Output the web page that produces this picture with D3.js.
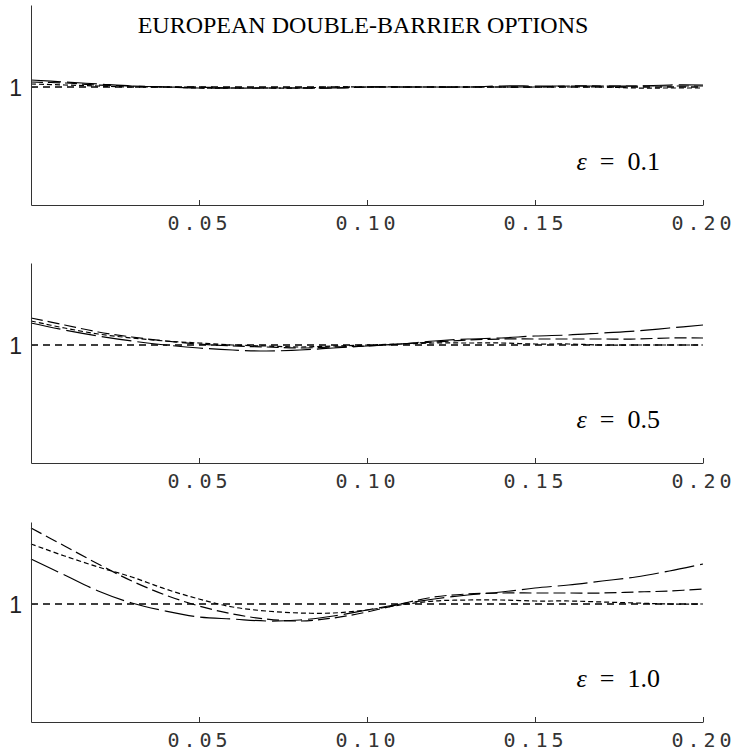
<!DOCTYPE html>
<html>
<head>
<meta charset="utf-8">
<script src="https://cdn.jsdelivr.net/npm/d3@7"></script>
<style>
  body { margin: 0; background: #fff; }
</style>
</head>
<body>
<script>
//constants
const w = 737;
const h = 753;
const left = 31;
const right = 703;
const panelH = 200;
const panelTops = [5, 263, 522];

//data
const xs = [0, 0.01, 0.02, 0.03, 0.04, 0.05, 0.06, 0.07, 0.08, 0.09, 0.10,
            0.11, 0.12, 0.13, 0.14, 0.15, 0.16, 0.17, 0.18, 0.19, 0.20];
const xTicks = [0.05, 0.10, 0.15, 0.20];
const yTicks = [1];
const epsLabels = ["0.1", "0.5", "1.0"];

// eps = 0.1
const long1  = [1.007, 1.005, 1.003, 1.001, 1.000, 0.999, 0.999, 0.999, 0.999, 0.999, 1.000,
                1.000, 1.000, 1.000, 1.001, 1.001, 1.001, 1.001, 1.001, 1.002, 1.002];
const dash1  = [1.005, 1.004, 1.002, 1.001, 1.000, 1.000, 0.999, 0.999, 0.999, 0.999, 1.000,
                1.000, 1.000, 1.000, 1.000, 1.000, 1.001, 1.001, 1.001, 1.001, 1.001];
const short1 = [1.003, 1.002, 1.001, 1.000, 1.000, 0.999, 0.999, 0.999, 0.999, 1.000, 1.000,
                1.000, 1.000, 1.000, 1.000, 1.000, 1.000, 1.000, 0.999, 0.999, 0.999];
// eps = 0.5
const long2  = [1.022, 1.015, 1.009, 1.004, 1.000, 0.997, 0.995, 0.994, 0.995, 0.997, 0.999,
                1.001, 1.004, 1.006, 1.007, 1.009, 1.010, 1.012, 1.014, 1.017, 1.020];
const dash2  = [1.027, 1.020, 1.013, 1.008, 1.004, 1.001, 0.999, 0.998, 0.997, 0.998, 0.999,
                1.001, 1.003, 1.005, 1.006, 1.006, 1.006, 1.006, 1.006, 1.007, 1.007];
const short2 = [1.024, 1.017, 1.011, 1.007, 1.004, 1.002, 1.000, 0.999, 0.998, 0.999, 1.000,
                1.001, 1.002, 1.002, 1.002, 1.001, 1.001, 1.000, 1.000, 1.000, 1.000];
// eps = 1.0
const long3  = [1.045, 1.029, 1.013, 1.001, 0.993, 0.987, 0.985, 0.983, 0.984, 0.988, 0.994,
                1.000, 1.005, 1.009, 1.012, 1.016, 1.019, 1.023, 1.027, 1.033, 1.040];
const dash3  = [1.076, 1.058, 1.040, 1.023, 1.009, 0.998, 0.990, 0.985, 0.983, 0.986, 0.992,
                1.000, 1.007, 1.010, 1.011, 1.011, 1.011, 1.011, 1.012, 1.013, 1.015];
const short3 = [1.060, 1.048, 1.037, 1.027, 1.015, 1.005, 0.997, 0.993, 0.991, 0.991, 0.994,
                0.999, 1.003, 1.004, 1.004, 1.003, 1.003, 1.002, 1.001, 1.000, 1.000];

const panels = [
  {eps: epsLabels[0], series: [long1, dash1, short1]},
  {eps: epsLabels[1], series: [long2, dash2, short2]},
  {eps: epsLabels[2], series: [long3, dash3, short3]}
];
const dashes = ["30,6", "12,5", "5,3"];

//SVG
const svg = d3.select("body")
  .append("svg")
  .attr("width", w)
  .attr("height", h);

const xScale = d3.scaleLinear()
  .domain([0, 0.2])
  .range([left, right]);

svg.append("text")
  .attr("x", 363)
  .attr("y", 33)
  .attr("text-anchor", "middle")
  .style("font-family", "'Liberation Serif', 'DejaVu Serif', serif")
  .style("font-size", "24px")
  .text("EUROPEAN DOUBLE-BARRIER OPTIONS");

const line = d3.line()
  .x((d, i) => xScale(xs[i]))
  .y(d => d)
  .curve(d3.curveCatmullRom);

panels.forEach((p, k) => {
  const top = panelTops[k];
  const yScale = d3.scaleLinear()
    .domain([0.882, 1.082])
    .range([top + panelH, top]);

  const g = svg.append("g");

  // reference line at 1
  g.append("path")
    .datum([0, 0.2])
    .attr("d", d3.line().x(d => xScale(d)).y(() => yScale(1)))
    .attr("fill", "none")
    .attr("stroke", "#000")
    .attr("stroke-width", 1.3)
    .attr("stroke-dasharray", "7,5");

  p.series.forEach((s, j) => {
    g.append("path")
      .datum(s.map(v => yScale(v)))
      .attr("d", line)
      .attr("fill", "none")
      .attr("stroke", "#000")
      .attr("stroke-width", 1.2)
      .attr("stroke-dasharray", dashes[j]);
  });

  //axes
  const xAxis = d3.axisBottom(xScale)
    .tickValues(xTicks)
    .tickFormat(d3.format(".2f"))
    .tickSizeInner(-5)
    .tickSizeOuter(0)
    .tickPadding(12);

  const gx = g.append("g")
    .attr("transform", "translate(0," + (top + panelH) + ")")
    .call(xAxis);
  gx.select(".domain").attr("stroke", "#333");
  gx.selectAll(".tick line").attr("stroke", "#333");
  gx.selectAll(".tick text")
    .attr("y", 25)
    .attr("dy", 0)
    .style("font-family", "'DejaVu Sans Mono', monospace")
    .style("font-size", "20px")
    .style("letter-spacing", "4px")
    .attr("fill", "#333");

  const yAxis = d3.axisLeft(yScale)
    .tickValues(yTicks)
    .tickFormat(d3.format("d"))
    .tickSizeInner(-4)
    .tickSizeOuter(0)
    .tickPadding(9);

  const gy = g.append("g")
    .attr("transform", "translate(" + left + ",0)")
    .call(yAxis);
  gy.select(".domain").attr("stroke", "#333");
  gy.selectAll(".tick line").attr("stroke", "#333");
  gy.selectAll(".tick text")
    .attr("dy", "0.36em")
    .style("font-family", "'Liberation Sans', sans-serif")
    .style("font-size", "23px")
    .attr("fill", "#222");

  // epsilon label
  const lab = g.append("text")
    .attr("x", 660)
    .attr("y", top + panelH - 35)
    .attr("text-anchor", "end")
    .style("font-family", "'Liberation Serif', 'DejaVu Serif', serif")
    .style("font-size", "26px");
  lab.append("tspan").style("font-style", "italic").text("ε");
  lab.append("tspan").text("\u2002=\u2002" + p.eps);
});
</script>
</body>
</html>
